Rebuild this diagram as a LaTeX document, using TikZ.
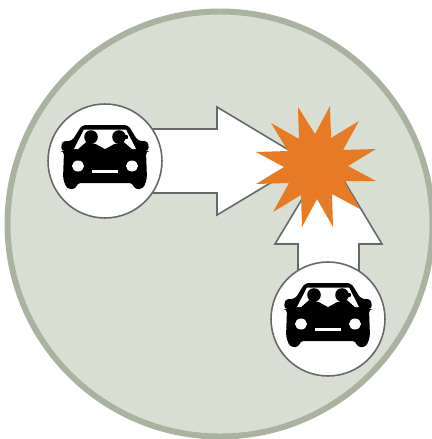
\documentclass[tikz,border=0pt]{standalone}
\usepackage{tikz}
\definecolor{diskfill}{HTML}{D9DED2}
\definecolor{diskedge}{HTML}{A9B39F}
\definecolor{arrowedge}{HTML}{66686A}
\definecolor{burst}{HTML}{E77A24}
\tikzset{
  disk/.style={fill=diskfill,draw=diskedge,line width=3.4pt},
  bigarrow/.style={fill=white,draw=arrowedge,line width=0.9pt},
  badge/.style={circle,fill=white,draw=arrowedge,line width=0.9pt,minimum size=2.28cm,inner sep=0pt},
  car/.pic={
    % body
    \fill[black,rounded corners=2pt] (-23,-36) -- (23,-36) -- (33,-20) -- (43,-20) -- (44,-10) -- (41,-10)
      -- (42,18) -- (38,28) -- (29,28) -- (28,22) -- (-28,22) -- (-29,28) -- (-38,28) -- (-42,18)
      -- (-41,-10) -- (-44,-10) -- (-43,-20) -- (-33,-20) -- cycle;
    % windscreen
    \fill[white] (-21,-31.5) -- (21,-31.5) -- (31,-12) -- (27,-12) -- (19,-19) -- (9,-17) -- (0,-12)
      -- (-9,-17) -- (-19,-19) -- (-27,-12) -- (-31,-12) -- cycle;
    % heads
    \fill[black] (-14,-24) circle (6.8);
    \fill[black] (14,-24) circle (6.8);
    \fill[black] (21,-24) circle (2.2);
    % lamps and grille
    \fill[white] (-27,5) ellipse (6 and 5.5);
    \fill[white] (27,5) ellipse (6 and 5.5);
    \fill[white] (-13,8.5) rectangle (13,11.5);
  }
}
\begin{document}
\begin{tikzpicture}[x=0.02cm,y=-0.02cm]
  \useasboundingbox (0,0) rectangle (432,439);
  \draw[disk] (220,224) circle (212.5);
  % arrows
  \draw[bigarrow] (105,129) -- (217,129) -- (217,107) -- (307,161) -- (217,215) -- (217,193) -- (105,193) -- cycle;
  \draw[bigarrow] (298,319) -- (298,244) -- (275,244) -- (328.5,155) -- (382,244) -- (359,244) -- (359,319) -- cycle;
  % burst
  \fill[burst] (298,107) -- (315,134) -- (330,106) -- (331,138) -- (359,121) -- (343,150) -- (376,149) -- (348,166)
    -- (376,181) -- (344,181) -- (360,209) -- (332,194) -- (333,227) -- (317,199) -- (302,227) -- (301,195)
    -- (273,212) -- (289,183) -- (256,184) -- (284,167) -- (256,152) -- (288,151) -- (271,123) -- (299,139) -- cycle;
  % badges
  \node[badge] (carA) at (105,161) {};
  \node[badge] (carB) at (328,319) {};
  \pic at (carA) {car};
  \pic at (carB) {car};
\end{tikzpicture}
\end{document}
